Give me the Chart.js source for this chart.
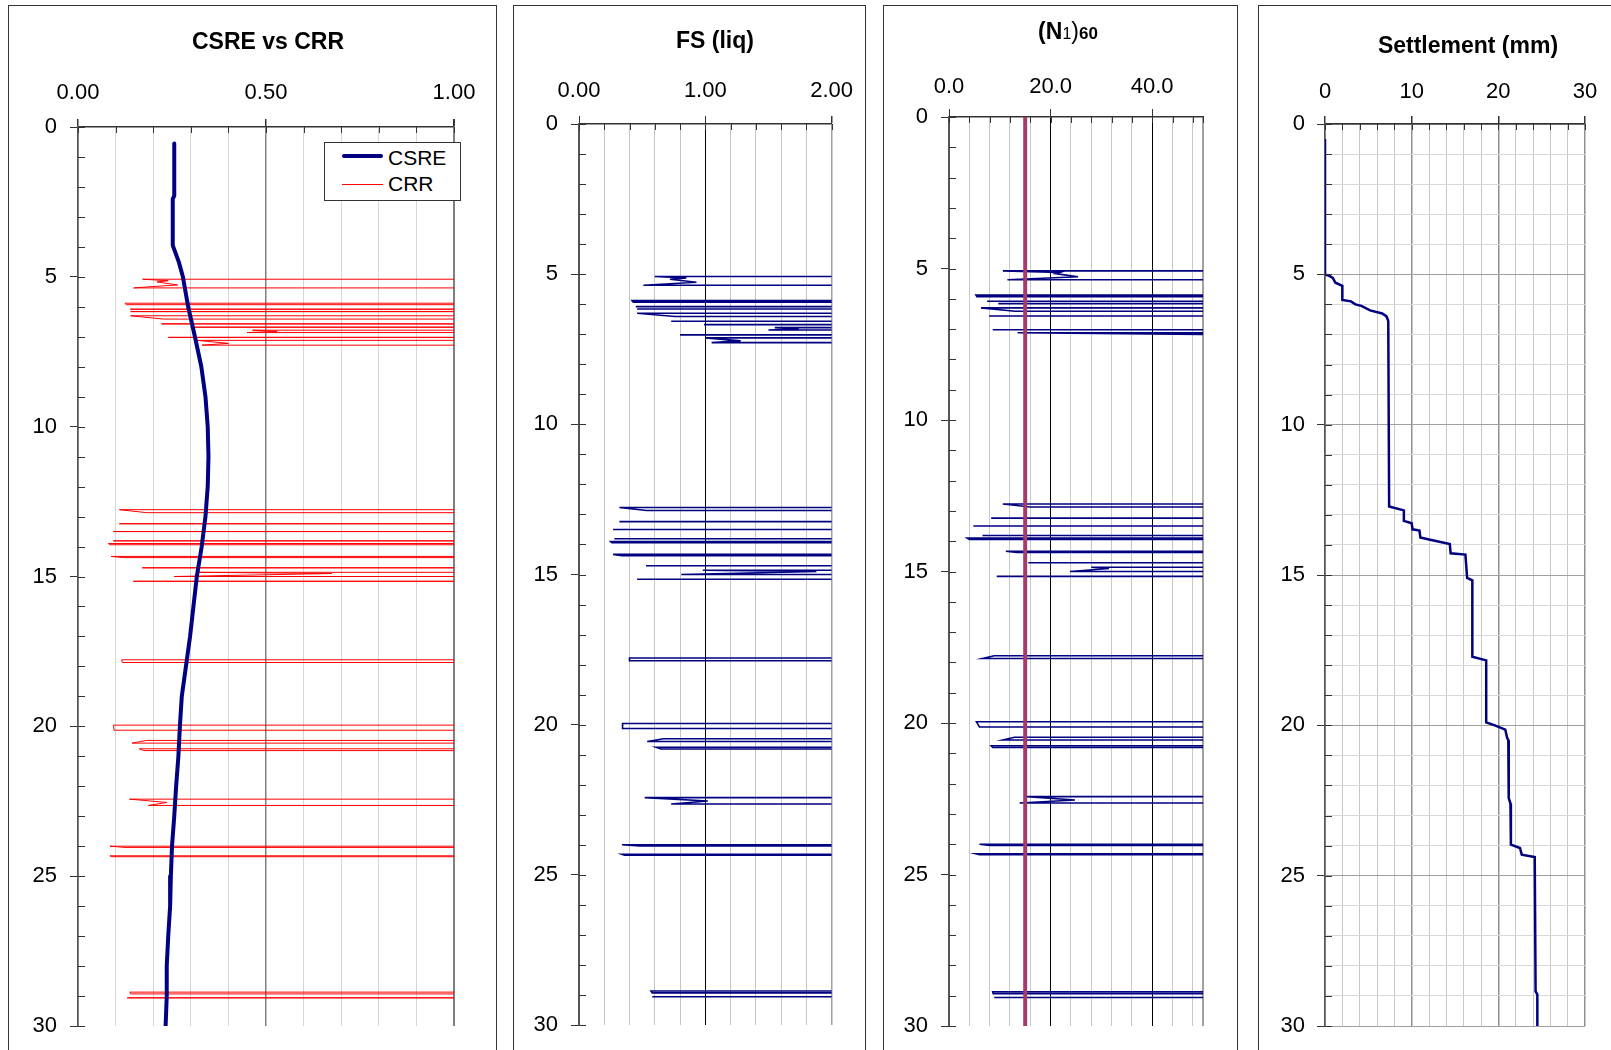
<!DOCTYPE html>
<html>
<head>
<meta charset="utf-8">
<title>Liquefaction profile</title>
<script src="https://cdn.jsdelivr.net/npm/chart.js@4.4.0/dist/chart.umd.min.js"></script>
<style>
  body { margin: 0; width: 1611px; height: 1050px; overflow: hidden; position: relative; background: #fff;
         font-family: "Liberation Sans", Arial, sans-serif; color: #000; }
  .panel { position: absolute; top: 5px; height: 1100px; border: 1px solid #333; background: #fff; }
  .panel canvas { position: absolute; left: 0; top: 0; }
  .title { position: absolute; font-size: 23px; line-height: 23px; font-weight: bold; white-space: nowrap;
           transform: translateX(-50%); }
  #legend { position: absolute; left: 324px; top: 142px; width: 135px; height: 57px; border: 1px solid #333; background: #fff; }
  #legend .sw { position: absolute; left: 17px; width: 41px; }
  #legend .lb { position: absolute; left: 63px; font-size: 21px; line-height: 21px; }
</style>
</head>
<body>
<div class="panel" style="left:8px;width:487px"><canvas id="p1" width="487" height="1060"></canvas></div>
<div class="panel" style="left:513px;width:351px"><canvas id="p2" width="351" height="1060"></canvas></div>
<div class="panel" style="left:883px;width:353px"><canvas id="p3" width="353" height="1060"></canvas></div>
<div class="panel" style="left:1258px;width:371px"><canvas id="p4" width="371" height="1060"></canvas></div>

<div class="title" style="left:268px;top:30px">CSRE vs CRR</div>
<div class="title" style="left:715px;top:29px">FS (liq)</div>
<div class="title" style="left:1068px;top:20px">(N<span style="font-size:16px;font-weight:normal">1</span><span style="font-weight:normal">)</span><span style="font-size:17px">60</span></div>
<div class="title" style="left:1468px;top:34px">Settlement (mm)</div>

<div id="legend">
  <div class="sw" style="top:11px;height:4px;background:#000080;border-radius:2px"></div>
  <div class="lb" style="top:4px">CSRE</div>
  <div class="sw" style="top:41px;height:1px;background:#ff0000"></div>
  <div class="lb" style="top:30px">CRR</div>
</div>

<script>
// depth profile, metres (y axis of every panel, 0 at top)
const depthMin = 0
const depthMax = 30
const depthMajor = [0, 5, 10, 15, 20, 25, 30]

// cyclic stress ratio
const csreDepth = [0.55, 2.3, 2.4, 3.95, 4.5, 5, 6, 7, 8, 9, 10, 11, 12, 13, 14, 15, 16, 17, 18, 19, 20, 21, 22, 23, 24, 25, 26, 27, 28, 29, 30]
const csreValue = [0.256, 0.256, 0.252, 0.252, 0.268, 0.279, 0.293, 0.311, 0.328, 0.339, 0.345, 0.347, 0.345, 0.339, 0.329, 0.316, 0.307, 0.298, 0.287, 0.276, 0.271, 0.267, 0.261, 0.256, 0.250, 0.247, 0.245, 0.240, 0.236, 0.236, 0.233]

// depths of the liquefiable layers (shared by CRR, FS and (N1)60); 2 / 5 / 80 = non-liquefiable, off scale
const dipDepth = [
  5.08, 5.08, 5.13, 5.17, 5.27, 5.37, 5.37,
  5.88, 5.88, 5.93, 5.93,
  6.08, 6.08, 6.08,
  6.16, 6.16, 6.16,
  6.30, 6.30, 6.41, 6.41,
  6.57, 6.57, 6.57,
  6.68, 6.68, 6.68,
  6.78, 6.78, 6.82, 6.86, 6.86,
  7.02, 7.02, 7.02,
  7.12, 7.12, 7.22, 7.28, 7.28,
  12.77, 12.77, 12.87, 12.87,
  13.24, 13.24, 13.24,
  13.50, 13.50, 13.50,
  13.81, 13.81, 13.81,
  13.90, 13.90, 13.94, 13.94,
  14.33, 14.33, 14.37, 14.37,
  14.71, 14.71, 14.71,
  14.86, 14.86, 14.90, 15.00, 15.00,
  15.16, 15.16, 15.16,
  17.78, 17.78, 17.87, 17.87,
  19.96, 19.96, 20.13, 20.13,
  20.47, 20.47, 20.56, 20.56,
  20.75, 20.75, 20.81, 20.81,
  22.43, 22.43, 22.54, 22.64, 22.64,
  24.00, 24.00, 24.04, 24.04,
  24.32, 24.32, 24.35, 24.35,
  28.87, 28.87, 28.93, 28.93,
  29.06, 29.06, 29.06
]
const crrValue = [
  2, 0.172, 0.24, 0.21, 0.265, 0.148, 2,
  2, 0.125, 0.128, 2,
  2, 0.139, 2,
  2, 0.140, 2,
  2, 0.140, 0.228, 2,
  2, 0.222, 2,
  2, 0.300, 2,
  2, 0.464, 0.530, 0.450, 2,
  2, 0.240, 2,
  2, 0.316, 0.400, 0.330, 2,
  2, 0.110, 0.183, 2,
  2, 0.110, 2,
  2, 0.094, 2,
  2, 0.094, 2,
  2, 0.081, 0.085, 2,
  2, 0.088, 0.120, 2,
  2, 0.171, 2,
  2, 0.316, 0.675, 0.256, 2,
  2, 0.147, 2,
  2, 0.116, 0.118, 2,
  2, 0.094, 0.096, 2,
  2, 0.183, 0.144, 2,
  2, 0.163, 0.175, 2,
  2, 0.137, 0.236, 0.187, 2,
  2, 0.085, 0.125, 2,
  2, 0.085, 0.090, 2,
  2, 0.138, 0.140, 2,
  2, 0.131, 2
]
const fsValue = [
  5, 0.60, 0.85, 0.72, 0.93, 0.51, 5,
  5, 0.42, 0.43, 5,
  5, 0.45, 5,
  5, 0.46, 5,
  5, 0.46, 0.76, 5,
  5, 0.73, 5,
  5, 0.99, 5,
  5, 1.55, 1.74, 1.50, 5,
  5, 0.80, 5,
  5, 1.00, 1.28, 1.05, 5,
  5, 0.32, 0.535, 5,
  5, 0.32, 5,
  5, 0.27, 5,
  5, 0.28, 5,
  5, 0.25, 0.26, 5,
  5, 0.27, 0.34, 5,
  5, 0.53, 5,
  5, 0.98, 1.88, 0.81, 5,
  5, 0.46, 5,
  5, 0.40, 0.40, 5,
  5, 0.345, 0.345, 5,
  5, 0.67, 0.54, 5,
  5, 0.61, 0.65, 5,
  5, 0.52, 1.02, 0.73, 5,
  5, 0.34, 0.48, 5,
  5, 0.34, 0.36, 5,
  5, 0.57, 0.58, 5,
  5, 0.58, 5
]
const n160Value = [
  80, 10.6, 21.8, 21.0, 25.4, 11.5, 80,
  80, 5.3, 5.5, 80,
  80, 7.5, 80,
  80, 9.7, 80,
  80, 6.3, 13.0, 80,
  80, 7.9, 80,
  80, 80, 80,
  80, 80, 80, 80, 80,
  80, 8.6, 80,
  80, 13.5, 80, 80, 80,
  80, 10.6, 16.0, 80,
  80, 8.3, 80,
  80, 4.8, 80,
  80, 6.6, 80,
  80, 3.6, 4.0, 80,
  80, 11.2, 13.3, 80,
  80, 15.6, 80,
  80, 28.0, 31.5, 23.8, 80,
  80, 9.4, 80,
  80, 8.9, 6.6, 80,
  80, 5.4, 6.0, 80,
  80, 12.9, 10.6, 80,
  80, 8.3, 8.6, 80,
  80, 15.3, 24.8, 13.9, 80,
  80, 6.0, 8.0, 80,
  80, 5.3, 6.0, 80,
  80, 8.6, 8.7, 80,
  80, 8.9, 80
]
// (N1)60 limit line
const limitDepth = [0, 30]
const limitValue = [15, 15]

// cumulative settlement, mm
const settleDepth = [0.5, 5.0, 5.05, 5.12, 5.28, 5.38, 5.85, 5.9, 6.0, 6.05, 6.2, 6.3, 6.4, 6.55, 12.72, 12.85, 13.2, 13.28, 13.48, 13.52, 13.75, 13.82, 13.97, 14.28, 14.32, 14.7, 15.1, 15.18, 17.72, 17.84, 19.9, 20.0, 20.14, 20.4, 20.5, 22.42, 22.6, 23.97, 24.08, 24.3, 24.38, 28.85, 28.95, 30]
const settleValue = [0, 0, 0.5, 0.9, 1.2, 2.0, 2.0, 3.0, 3.5, 4.2, 5.2, 6.6, 7.1, 7.3, 7.4, 9.1, 9.1, 10.0, 10.1, 10.9, 11.0, 12.0, 14.4, 14.5, 16.2, 16.3, 16.4, 17.0, 17.0, 18.6, 18.6, 19.6, 20.8, 21.0, 21.15, 21.2, 21.4, 21.45, 22.5, 22.7, 24.2, 24.3, 24.5, 24.5]

// labelled x ticks of each panel
const csrMajor = [0, 0.5, 1.0]
const fsMajor = [0, 1, 2]
const n160Major = [0, 20, 40]
const settleMajor = [0, 10, 20, 30]

Chart.defaults.font.family = '"Liberation Sans", Arial, sans-serif'
Chart.defaults.color = '#000'

const AXIS_H = 70

function pts(depths, values) {
    return depths.map((d, i) => ({ x: values[i], y: d }))
}

function near(v, list) {
    return list.some(m => Math.abs(m - v) < 1e-6)
}

function stepTicks(min, max, step) {
    const out = []
    for (let i = 0; min + i * step < max - 1e-9; i++) out.push({ value: Math.round((min + i * step) * 1000) / 1000 })
    out.push({ value: max })
    return out
}

// inward tick marks on both axes
const innerTicks = {
    id: 'innerTicks',
    afterDraw(chart) {
        const { ctx, chartArea: a } = chart
        const xs = chart.scales.x, ys = chart.scales.y
        ctx.save()
        ctx.strokeStyle = '#333'
        ctx.lineWidth = 1
        ctx.beginPath()
        xs.ticks.forEach(t => {
            const px = Math.round(xs.getPixelForValue(t.value)) + 0.5
            ctx.moveTo(px, a.top)
            ctx.lineTo(px, a.top + 6)
        })
        ys.ticks.forEach(t => {
            const py = Math.round(ys.getPixelForValue(t.value)) + 0.5
            ctx.moveTo(a.left, py)
            ctx.lineTo(a.left + 7, py)
        })
        ctx.stroke()
        ctx.restore()
    }
}

function depthPanel(id, p) {
    const canvas = document.getElementById(id)
    return new Chart(canvas, {
        type: 'scatter',
        data: { datasets: p.datasets },
        options: {
            responsive: false,
            animation: false,
            devicePixelRatio: 1,
            layout: { padding: { left: 0, top: p.top - AXIS_H, right: canvas.width - p.right, bottom: canvas.height - p.bottom } },
            plugins: { legend: { display: false }, tooltip: { enabled: false }, title: { display: false } },
            elements: { point: { radius: 0 }, line: { tension: 0 } },
            scales: {
                x: {
                    type: 'linear', position: 'top', min: p.xMin, max: p.xMax,
                    afterBuildTicks: s => { s.ticks = stepTicks(p.xMin, p.xMax, p.xStep) },
                    afterFit: s => { s.height = AXIS_H },
                    border: { color: '#333', width: 1.5 },
                    grid: {
                        color: c => p.xGridColor(c.tick.value),
                        lineWidth: c => p.xGridWidth(c.tick.value),
                        tickColor: c => near(c.tick.value, p.xMajor) ? '#333' : 'rgba(0,0,0,0)',
                        tickLength: 8
                    },
                    ticks: {
                        autoSkip: false, maxRotation: 0, padding: p.xPad,
                        font: { size: 22 },
                        callback: v => near(v, p.xMajor) ? v.toFixed(p.xDigits) : ''
                    }
                },
                y: {
                    type: 'linear', position: 'left', reverse: true, min: depthMin, max: depthMax,
                    afterBuildTicks: s => { s.ticks = stepTicks(depthMin, depthMax, 1) },
                    afterFit: s => { s.width = p.left },
                    border: { color: '#555', width: 1.5 },
                    grid: {
                        drawOnChartArea: p.yGrid,
                        color: c => near(c.tick.value, depthMajor) ? '#a0a0a0' : '#d9d9d9',
                        tickColor: c => near(c.tick.value, depthMajor) ? '#333' : 'rgba(0,0,0,0)',
                        tickLength: 8
                    },
                    ticks: {
                        autoSkip: false, padding: p.yPad,
                        font: { size: 22 },
                        callback: v => near(v, depthMajor) ? String(v) : ''
                    }
                }
            }
        },
        plugins: [innerTicks]
    })
}

depthPanel('p1', {
    left: 69, right: 445, top: 121, bottom: 1020,
    xMin: 0, xMax: 1, xStep: 0.1, xMajor: csrMajor, xDigits: 2, xPad: 13, yPad: 13, yGrid: false,
    xGridColor: v => v === 0 ? '#555' : (near(v, csrMajor) ? '#808080' : '#d6d6d6'),
    xGridWidth: v => v === 1 ? 2 : (near(v, csrMajor) ? 1.5 : 1),
    datasets: [
        { label: 'CSRE', data: pts(csreDepth, csreValue), showLine: true, borderColor: '#000080', borderWidth: 4, borderJoinStyle: 'round', borderCapStyle: 'round' },
        { label: 'CRR', data: pts(dipDepth, crrValue), showLine: true, borderColor: '#ff0000', borderWidth: 1 }
    ]
})

depthPanel('p2', {
    left: 65, right: 318, top: 118, bottom: 1019,
    xMin: 0, xMax: 2, xStep: 0.2, xMajor: fsMajor, xDigits: 2, xPad: 12, yPad: 13, yGrid: false,
    xGridColor: v => v === 0 ? '#555' : (v === 1 ? '#000' : (v === 2 ? '#a0a0a0' : '#c4c4c4')),
    xGridWidth: v => v === 2 ? 1.5 : 1,
    datasets: [
        { label: 'FS', data: pts(dipDepth, fsValue), showLine: true, borderColor: '#000080', borderWidth: 1.6 }
    ]
})

depthPanel('p3', {
    left: 65, right: 319, top: 111, bottom: 1020,
    xMin: 0, xMax: 50, xStep: 4, xMajor: n160Major, xDigits: 1, xPad: 9, yPad: 13, yGrid: false,
    xGridColor: v => v === 0 ? '#555' : (v === 20 || v === 40 ? '#000' : (v === 50 ? '#a0a0a0' : '#c8c8c8')),
    xGridWidth: v => v === 50 ? 2 : 1,
    datasets: [
        { label: 'limit', data: pts(limitDepth, limitValue), showLine: true, borderColor: '#a33b6b', borderWidth: 4 },
        { label: '(N1)60', data: pts(dipDepth, n160Value), showLine: true, borderColor: '#000080', borderWidth: 1.6 }
    ]
})

depthPanel('p4', {
    left: 66, right: 326, top: 118, bottom: 1020,
    xMin: 0, xMax: 30, xStep: 2, xMajor: settleMajor, xDigits: 0, xPad: 11, yPad: 12, yGrid: true,
    xGridColor: v => v === 0 ? '#555' : (near(v, settleMajor) ? '#909090' : '#c8c8c8'),
    xGridWidth: v => near(v, settleMajor) ? 1.5 : 1,
    datasets: [
        { label: 'Settlement', data: pts(settleDepth, settleValue), showLine: true, borderColor: '#000080', borderWidth: 2.5 }
    ]
})
</script>
</body>
</html>
